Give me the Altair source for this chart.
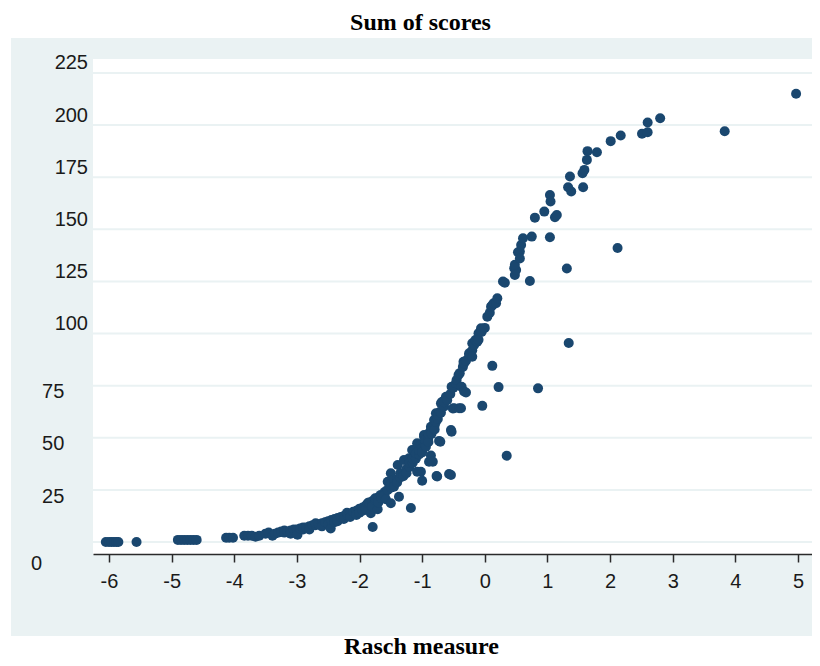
import altair as alt
import pandas as pd

# ---- data ----
tail_x = [-6.05, -6.0, -5.96, -5.92, -5.88, -5.85, -5.56,
          -4.9, -4.85, -4.8, -4.75, -4.7, -4.65, -4.6,
          -4.13, -4.08, -4.02,
          -3.84, -3.78, -3.72, -3.66, -3.6,
          -3.5, -3.45, -3.39, -3.35, -3.3]
tail_y = [0, 0, 0, 0, 0, 0, 0,
          1, 1, 1, 1, 1, 1, 1,
          2, 2, 2,
          3, 3, 3, 2.5, 3,
          4, 4.5, 3, 4, 4.5]

low_x = [-3.25, -3.2, -3.2, -3.15, -3.1, -3.1, -3.05, -3.0, -2.99, -2.95,
         -2.9, -2.9, -2.85, -2.8, -2.8, -2.75, -2.7, -2.7, -2.65, -2.6,
         -2.6, -2.55, -2.5, -2.5, -2.46, -2.45, -2.4, -2.4, -2.35, -2.35,
         -2.3, -2.25, -2.25, -2.2, -2.2, -2.15, -2.15, -2.1, -2.05, -2.05,
         -2.0, -2.0, -1.95, -1.95, -1.9, -1.9, -1.87, -1.85, -1.82, -1.8,
         -1.8, -1.79, -1.75, -1.75, -1.71, -1.7, -1.7, -1.66, -1.65, -1.6,
         -1.6, -1.58, -1.55, -1.55, -1.5, -1.5, -1.5, -1.5, -1.45, -1.45]
low_y = [5, 5.5, 4.5, 5, 5.5, 4, 6, 6, 3.5, 6.5,
         6, 7, 7, 7.5, 6, 8, 8, 9, 8.5, 9,
         7.5, 9.5, 10, 8.5, 6.5, 10.5, 11, 9.5, 11.5, 10,
         12, 12.5, 11, 13, 14, 13.5, 12, 14.5, 15, 13,
         16, 14, 16.5, 15, 17.5, 16, 18.6, 19, 13.8, 19.5,
         17, 7.2, 20, 21, 15.7, 21.5, 19, 22.6, 21, 24,
         22.5, 20.5, 25, 28.9, 26, 28, 18.6, 33, 29.8, 26.5]

mid_x = [-1.4, -1.4, -1.39, -1.37, -1.35, -1.35, -1.3, -1.3, -1.29, -1.25,
         -1.25, -1.21, -1.2, -1.2, -1.18, -1.16, -1.15, -1.15, -1.13, -1.1,
         -1.1, -1.08, -1.08, -1.05, -1.05, -1.02, -1.02, -1.0, -1.0, -1.0,
         -0.97, -0.97, -0.95, -0.95, -0.94, -0.9, -0.9, -0.9, -0.89, -0.86,
         -0.86, -0.86, -0.85, -0.83, -0.81, -0.8, -0.8, -0.78, -0.78, -0.77,
         -0.76, -0.75, -0.75, -0.73, -0.72, -0.71, -0.7, -0.7, -0.68, -0.65,
         -0.65, -0.62, -0.6, -0.57, -0.55, -0.54, -0.54, -0.53, -0.53, -0.51]
mid_y = [30, 28.5, 36.9, 21.7, 31, 33, 33, 31.5, 39.3, 35,
         33, 40.2, 36, 38, 16.3, 44.1, 38, 40, 44, 40,
         42.5, 47.4, 33.7, 42, 44, 46.5, 33.7, 45, 43, 29.4,
         50.5, 51.3, 47, 49, 45.7, 50, 48, 52, 38.5, 53.7,
         55.3, 41.5, 52, 38.5, 58.5, 56, 54, 61.8, 57.7, 31.7,
         31.4, 59, 61, 48.5, 62.4, 48.1, 62, 66.5, 67.3, 65,
         67, 69.7, 68, 32.6, 71, 53.7, 32.1, 74.5, 52.9, 64]

top_x = [-0.5, -0.49, -0.46, -0.45, -0.42, -0.41, -0.4, -0.38, -0.37, -0.35,
         -0.34, -0.33, -0.33, -0.3, -0.3, -0.25, -0.25, -0.2, -0.2, -0.2,
         -0.17, -0.15, -0.12, -0.1, -0.1, -0.06, -0.05, -0.04, 0.0, 0.04,
         0.08, 0.10, 0.12, 0.12, 0.14, 0.18, 0.20, 0.22, 0.29, 0.32, 0.35]
top_y = [74, 64.2, 76.2, 77.7, 80.1, 64.2, 81, 64.2, 74.5, 84,
         86.5, 85.7, 72.2, 87, 71.7, 89.7, 90.5, 92, 95.3, 88.9,
         94.5, 96.9, 96.1, 100.1, 97, 102.5, 100.8, 65.3, 102.7, 108.1,
         110, 112.9, 84.5, 113.5, 114.5, 114.5, 116.9, 74.3, 125, 124.4, 41.4]

high_x = [0.47, 0.48, 0.50, 0.48, 0.53, 0.56, 0.56, 0.58, 0.61, 0.72,
          0.75, 0.80, 0.85, 0.95, 1.04, 1.04, 1.05, 1.12, 1.15, 1.31,
          1.34, 1.33, 1.36, 1.38, 1.56, 1.59, 1.57, 1.63, 1.64, 1.79,
          2.01, 2.12, 2.17, 2.51, 2.60, 2.60, 2.80, 3.83, 4.97]
high_y = [131.3, 128.1, 130.5, 133, 139, 139.3, 136, 142.5, 145.7, 125.2,
          146.5, 155.6, 73.7, 158.5, 146.2, 166.5, 163.3, 155.8, 156.9, 131.2,
          95.5, 170.2, 175.3, 168.1, 176.9, 178.5, 170.2, 183.3, 187.5, 187,
          192.3, 141, 195, 195.8, 196.6, 201.2, 203.3, 197, 215]

y_ticks = [0, 25, 50, 75, 100, 125, 150, 175, 200, 225]
x_ticks = [-6, -5, -4, -3, -2, -1, 0, 1, 2, 3, 4, 5]
y_title = "Sum of scores"
x_title = "Rasch measure"

df = pd.DataFrame({
    "rasch": tail_x + low_x + mid_x + top_x + high_x,
    "score": tail_y + low_y + mid_y + top_y + high_y,
})
ticks_df = pd.DataFrame({"g": y_ticks})

W, H = 719, 495
PANEL = "#EAF2F3"
NAVY = "#1A476F"
AX = "#2a2a2a"
LBL = "#1a1a1a"

xscale = alt.Scale(domain=[-6.255, 5.224], nice=False, zero=False)
yscale = alt.Scale(domain=[-5.76, 231.7], nice=False, zero=False)

one = pd.DataFrame({"k": [0]})

panel = alt.Chart(one).mark_rect(color=PANEL).encode(
    x=alt.value(-82), x2=alt.value(730), y=alt.value(-21), y2=alt.value(577)
)
plotbg = alt.Chart(one).mark_rect(color="white").encode(
    x=alt.value(0), x2=alt.value(W), y=alt.value(0), y2=alt.value(H)
)
grid = alt.Chart(ticks_df).mark_rule(color=PANEL, strokeWidth=2).encode(
    y=alt.Y("g:Q", scale=yscale, axis=None)
)

# y-axis title, Stata style: horizontal, above the plot
ytitle = alt.Chart(pd.DataFrame({"t": [y_title]})).mark_text(
    font="Liberation Serif", fontSize=24, fontWeight="bold", color="black",
    align="center", baseline="alphabetic"
).encode(x=alt.value(327.5), y=alt.value(-29), text="t:N")

# y tick labels, placed through the y scale (Stata-style irregular offsets)
lab_common = dict(font="Liberation Sans", fontSize=20, color=LBL, align="right")
lab_hi = alt.Chart(ticks_df).transform_filter("datum.g >= 100").mark_text(
    baseline="alphabetic", dy=-3.5, **lab_common
).encode(y=alt.Y("g:Q", scale=yscale, axis=None), x=alt.value(-5), text="g:Q")
lab_mid = alt.Chart(ticks_df).transform_filter("datum.g > 0 && datum.g < 100").mark_text(
    baseline="middle", dy=6.7, **lab_common
).encode(y=alt.Y("g:Q", scale=yscale, axis=None), x=alt.value(-28.7), text="g:Q")
lab_zero = alt.Chart(ticks_df).transform_filter("datum.g == 0").mark_text(
    baseline="middle", dy=22, **lab_common
).encode(y=alt.Y("g:Q", scale=yscale, axis=None), x=alt.value(-51), text="g:Q")

yaxis = alt.Axis(
    values=y_ticks, grid=False, zindex=1, labels=False, title=None,
    domainColor=AX, domainWidth=1.5, tickColor=AX, tickWidth=1.5, tickSize=9,
)
xaxis = alt.Axis(
    values=x_ticks, grid=False, zindex=1,
    domainColor=AX, domainWidth=1.5, tickColor=AX, tickWidth=1.5, tickSize=8,
    labelFont="Liberation Sans", labelFontSize=20, labelColor=LBL,
    labelPadding=9.5, labelFlush=False, labelOverlap=False,
    labelExpr="'' + datum.value",
    title=x_title, titleX=328, titleY=99,
    titleFont="Liberation Serif", titleFontSize=24, titleFontWeight="bold",
    titleAlign="center", titleBaseline="alphabetic", titleColor="black",
)

points = alt.Chart(df).mark_circle(size=100, color=NAVY, opacity=1).encode(
    x=alt.X("rasch:Q", scale=xscale, axis=xaxis),
    y=alt.Y("score:Q", scale=yscale, axis=yaxis),
)

chart = alt.layer(panel, plotbg, grid, ytitle, lab_hi, lab_mid, lab_zero, points).properties(
    width=W, height=H,
    padding={"left": 85, "top": 51, "right": 0, "bottom": 104},
    autosize=alt.AutoSizeParams(type="none"),
    background="white",
).configure_view(stroke=None)

chart.save("out.html", embed_options={"renderer": "svg", "actions": False})
